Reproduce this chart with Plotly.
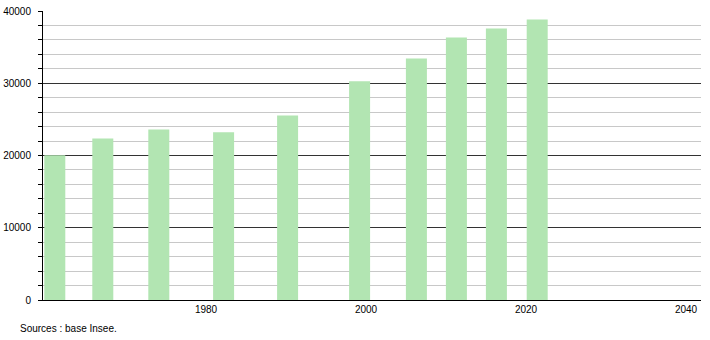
import plotly.graph_objects as go

# Bar positions (as placed on the time axis) and population values
years = [1961.1, 1967.1, 1974.1, 1982.2, 1990.2, 1999.2, 2006.3, 2011.3, 2016.3, 2021.4]
population = [20050, 22350, 23600, 23230, 25530, 30280, 33420, 36320, 37570, 38810]
x_ticks = [1980, 2000, 2020, 2040]
y_ticks = [0, 10000, 20000, 30000, 40000]

FONT = "Liberation Sans, Arial, sans-serif"

fig = go.Figure()
fig.add_trace(go.Bar(
    x=years, y=population,
    width=2.625,
    marker=dict(color="#b2e5b2", line=dict(width=0)),
    hoverinfo="x+y",
))

fig.update_layout(
    width=710, height=340,
    margin=dict(l=43, r=9, t=11, b=40, autoexpand=False),
    paper_bgcolor="white", plot_bgcolor="white",
    showlegend=False,
    font=dict(family=FONT, size=10, color="#000"),
    xaxis=dict(
        range=[1959.625, 2041.875],
        tickmode="array", tickvals=x_ticks, ticktext=[str(v) for v in x_ticks],
        showgrid=False, zeroline=False,
        showline=True, linecolor="#000", linewidth=1,
        ticks="", ticklen=0,
        automargin=False,
        fixedrange=True,
    ),
    yaxis=dict(
        range=[0, 40000],
        tickmode="array", tickvals=y_ticks, ticktext=[str(v) for v in y_ticks],
        showgrid=True, gridcolor="#333333", gridwidth=1,
        zeroline=False,
        showline=True, linecolor="#000", linewidth=1,
        ticks="outside", ticklen=4, tickcolor="#000",
        ticklabelstandoff=5,
        minor=dict(dtick=2000, tick0=0, showgrid=True, gridcolor="#c8c8c8", gridwidth=1,
                   ticks="outside", ticklen=4, tickcolor="#000"),
        automargin=False,
        fixedrange=True,
    ),
    annotations=[dict(
        text="Sources : base Insee.", xref="paper", yref="paper",
        x=-43/658 + 18/658, y=-28/289, xanchor="left", yanchor="middle",
        showarrow=False, font=dict(family=FONT, size=10, color="#000"),
    )],
)

fig.write_html("out.html")
